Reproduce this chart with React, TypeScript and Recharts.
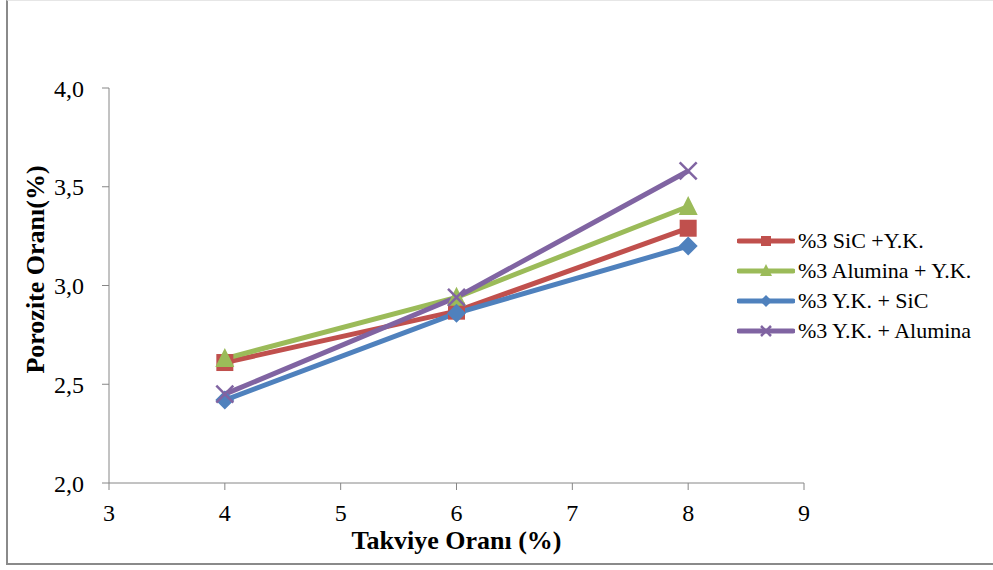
import React from 'react';
import { LineChart, Line, XAxis, YAxis } from 'recharts';

// takviye oranı (%) on the x axis
const takviye = [4, 6, 8];

// porozite oranı (%) for each mixture
const sicYk = [2.61, 2.87, 3.29];
const aluminaYk = [2.63, 2.94, 3.40];
const ykSic = [2.42, 2.86, 3.20];
const ykAlumina = [2.45, 2.94, 3.58];

const xTicks = [3, 4, 5, 6, 7, 8, 9];
const yTicks = [2.0, 2.5, 3.0, 3.5, 4.0];

const data = takviye.map((x, i) => ({
  x,
  sicYk: sicYk[i],
  aluminaYk: aluminaYk[i],
  ykSic: ykSic[i],
  ykAlumina: ykAlumina[i],
}));

const FONT = '"Liberation Serif", "Times New Roman", serif';
const AXIS = '#868686';

type Shape = 'square' | 'triangle' | 'diamond' | 'cross';

const SERIES: { key: string; name: string; color: string; shape: Shape }[] = [
  { key: 'sicYk', name: '%3 SiC +Y.K.', color: '#C0504D', shape: 'square' },
  { key: 'aluminaYk', name: '%3 Alumina + Y.K.', color: '#9BBB59', shape: 'triangle' },
  { key: 'ykSic', name: '%3 Y.K. + SiC', color: '#4F81BD', shape: 'diamond' },
  { key: 'ykAlumina', name: '%3 Y.K. + Alumina', color: '#8064A2', shape: 'cross' },
];

const marker = (shape: Shape, color: string, cx: number, cy: number, s: number, key?: string) => {
  const h = s / 2;
  switch (shape) {
    case 'square':
      return <rect key={key} x={cx - h} y={cy - h} width={s} height={s} fill={color} />;
    case 'triangle':
      return <polygon key={key} points={`${cx},${cy - h - 2} ${cx + h + 1},${cy + h} ${cx - h - 1},${cy + h}`} fill={color} />;
    case 'diamond':
      return <polygon key={key} points={`${cx},${cy - h - 1} ${cx + h + 1},${cy} ${cx},${cy + h + 1} ${cx - h - 1},${cy}`} fill={color} />;
    default:
      return (
        <g key={key} stroke={color} strokeWidth={2.5}>
          <line x1={cx - h} y1={cy - h} x2={cx + h} y2={cy + h} />
          <line x1={cx - h} y1={cy + h} x2={cx + h} y2={cy - h} />
        </g>
      );
  }
};

const makeDot = (shape: Shape, color: string) => (props: any) =>
  marker(shape, color, props.cx, props.cy, 17, `${shape}-${props.index}`);

const fmt = (v: number) => v.toFixed(1).replace('.', ',');

// rotated y-axis title, nudged a little above the plot's middle
const YTitle = (props: any) => {
  const vb = props.viewBox || {};
  const x = vb.x + 35;
  const y = vb.y + vb.height / 2 - 16;
  return (
    <text
      x={x}
      y={y}
      transform={`rotate(-90, ${x}, ${y})`}
      textAnchor="middle"
      dominantBaseline="central"
      fill="#000"
      fontSize={26}
      fontWeight="bold"
      fontFamily={FONT}
    >
      Porozite Oranı(%)
    </text>
  );
};

// legend sits to the right of the plot, outside the chart's own layout
const LegendBox = () => (
  <div style={{ position: 'absolute', left: 737, top: 226, fontFamily: FONT, fontSize: 22, color: '#000' }}>
    {SERIES.map((s) => (
      <div key={s.key} style={{ display: 'flex', alignItems: 'center', height: 30 }}>
        <svg width={58} height={20} style={{ marginRight: 3 }}>
          <line x1={2} y1={10} x2={56} y2={10} stroke={s.color} strokeWidth={5} strokeLinecap="round" />
          {marker(s.shape, s.color, 29, 10, 10)}
        </svg>
        <span style={{ whiteSpace: 'nowrap' }}>{s.name}</span>
      </div>
    ))}
  </div>
);

export default function App() {
  return (
    <div style={{ position: 'absolute', left: 0, top: 0, width: 993, height: 570, background: '#fff', overflow: 'hidden' }}>
      <div
        style={{
          position: 'absolute',
          left: 6,
          top: 0,
          width: 1000,
          height: 562,
          borderLeft: '2px solid #8a8a8a',
          borderBottom: '2px solid #8a8a8a',
          borderTop: '1px solid #e6e6e6',
        }}
      />
      <LineChart
        width={993}
        height={570}
        data={data}
        margin={{ top: 88, right: 189, bottom: 0, left: 0 }}
        style={{ position: 'absolute', left: 0, top: 0 }}
      >
        <XAxis
          dataKey="x"
          type="number"
          domain={[3, 9]}
          ticks={xTicks}
          interval={0}
          height={87}
          stroke={AXIS}
          tickSize={7}
          tick={{ fill: '#000', fontSize: 24, fontFamily: FONT }}
          tickMargin={14}
          label={{
            value: 'Takviye Oranı (%)',
            position: 'insideBottom',
            offset: 21,
            fill: '#000',
            fontSize: 26,
            fontWeight: 'bold',
            fontFamily: FONT,
          }}
        />
        <YAxis
          type="number"
          domain={[2, 4]}
          ticks={yTicks}
          interval={0}
          width={109}
          stroke={AXIS}
          tickSize={7}
          tickMargin={18}
          tickFormatter={fmt}
          tick={{ fill: '#000', fontSize: 24, fontFamily: FONT }}
          label={{ content: (p: any) => <YTitle viewBox={{ x: 0, y: 88, height: 395 }} {...p} /> }}
        />
        {SERIES.map((s) => (
          <Line
            key={s.key}
            dataKey={s.key}
            name={s.name}
            type="linear"
            stroke={s.color}
            strokeWidth={5}
            dot={makeDot(s.shape, s.color)}
            activeDot={false}
            isAnimationActive={false}
          />
        ))}
      </LineChart>
      <LegendBox />
    </div>
  );
}
